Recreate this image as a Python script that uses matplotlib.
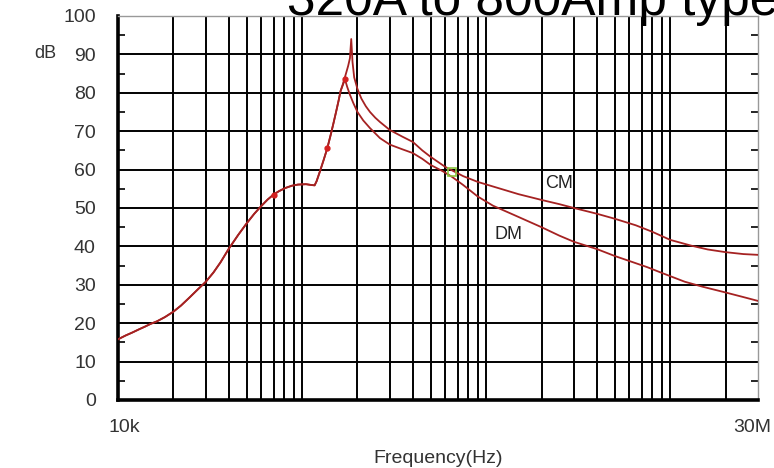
import matplotlib.pyplot as plt
from matplotlib.ticker import FixedLocator, NullFormatter, NullLocator
import numpy as np

plt.rcParams['font.family'] = ['Liberation Sans', 'DejaVu Sans']

# both curves are the same up to ~160 kHz
freq_common = [10e3, 11e3, 12e3, 13e3, 14e3, 15e3, 16.3e3, 18e3, 20e3, 22e3,
               24.6e3, 27e3, 30e3, 33e3, 36e3, 40e3, 45e3, 50e3, 55e3, 60e3,
               65e3, 70e3, 75e3, 81e3, 88e3, 95e3, 105e3, 112e3, 117e3, 120e3,
               125e3, 131e3, 137e3, 143e3, 148e3, 153e3, 158e3, 162e3]
db_common = [15.8, 16.8, 17.6, 18.4, 19.1, 19.8, 20.5, 21.6, 23.0, 24.6,
             26.8, 28.7, 30.8, 33.2, 35.8, 39.4, 43.0, 46.0, 48.5, 50.5,
             52.2, 53.5, 54.4, 55.2, 55.8, 56.1, 56.2, 56.0, 55.9, 57.0,
             59.5, 62.5, 65.5, 69.0, 72.0, 75.0, 78.0, 80.5]

freq_cm = [166e3, 172e3, 178e3, 182e3, 185e3, 188e3, 192e3, 200e3, 210e3, 222e3,
           234e3, 250e3, 265e3, 300e3, 350e3, 400e3, 450e3, 500e3, 600e3, 653e3,
           750e3, 900e3, 1.2e6, 1.5e6, 2e6, 2.5e6, 3e6, 4e6, 5e6, 6.5e6,
           8e6, 10e6, 13e6, 16e6, 20e6, 25e6, 30e6]
db_cm = [82.0, 84.5, 87.0, 89.0, 94.0, 88.0, 84.0, 81.0, 78.5, 76.5,
         75.0, 73.5, 72.4, 70.3, 68.6, 67.2, 65.0, 63.3, 60.7, 59.8,
         58.3, 56.8, 55.0, 53.6, 52.1, 51.0, 50.0, 48.5, 47.2, 45.5,
         43.8, 41.7, 40.2, 39.2, 38.5, 38.0, 37.8]

freq_dm = [171e3, 176e3, 182e3, 190e3, 200e3, 215e3, 234e3, 265e3, 300e3, 350e3,
           400e3, 450e3, 500e3, 580e3, 653e3, 750e3, 900e3, 1.09e6, 1.4e6, 2e6,
           2.5e6, 3e6, 4e6, 5e6, 6e6, 7.5e6, 9e6, 12e6, 15e6, 20e6,
           25e6, 30e6]
db_dm = [83.5, 81.5, 79.5, 77.3, 75.0, 72.8, 70.8, 68.2, 66.5, 65.3,
         64.3, 62.8, 61.2, 59.6, 58.1, 56.0, 53.0, 50.6, 48.3, 45.0,
         42.8, 41.2, 39.3, 37.5, 36.2, 34.6, 33.1, 30.8, 29.5, 28.0,
         26.8, 25.8]

dot_f = [70e3, 137e3, 171e3]
dot_db = [53.5, 65.5, 83.5]
cursor_f, cursor_db = 653e3, 59.5

fig = plt.figure(figsize=(7.74, 4.68), dpi=100)
ax = fig.add_axes([118 / 774, 1 - 400 / 468, 640 / 774, 384 / 468])

line_col = '#a52222'
ax.plot(freq_common + freq_cm, db_common + db_cm, color=line_col, lw=1.3, zorder=3)
ax.plot(freq_common + freq_dm, db_common + db_dm, color=line_col, lw=1.3, zorder=3)
ax.plot(dot_f, dot_db, 'o', ms=3.5, color='#d42020', zorder=4)
ax.plot([cursor_f], [cursor_db], marker='s', ms=6, mfc='none', mec='#8cc63f', mew=1.2, zorder=4)

ax.set_xscale('log')
ax.set_xlim(10e3, 30e6)
ax.set_ylim(0, 100)

# grid lines at every 1..9 x decade and every 10 dB
vgrid = [m * 10 ** e for e in range(4, 8) for m in range(1, 10) if 10e3 < m * 10 ** e < 30e6]
for v in vgrid:
    ax.axvline(v, color='black', lw=1.4, zorder=1)
for h in range(10, 100, 10):
    ax.axhline(h, color='black', lw=1.4, zorder=1)

ax.xaxis.set_major_locator(NullLocator())
ax.xaxis.set_minor_locator(NullLocator())
ax.annotate('10k', xy=(10e3, 0), xycoords=('data', 'axes fraction'), xytext=(4.5, -20),
            textcoords='offset points', ha='center', va='center', fontsize=14, color='#333333')
ax.annotate('30M', xy=(30e6, 0), xycoords=('data', 'axes fraction'), xytext=(-4, -20),
            textcoords='offset points', ha='center', va='center', fontsize=14, color='#333333')

ax.set_yticks(range(0, 101, 10))
ax.set_yticks(range(5, 100, 10), minor=True)
ax.tick_params(axis='y', which='major', length=0, pad=16, labelsize=14, labelcolor='#333333')
ax.tick_params(axis='y', which='minor', direction='in', length=5, width=1.2,
               left=True, right=True, color='black')

for s in ['left', 'bottom']:
    ax.spines[s].set_linewidth(2.6)
    ax.spines[s].set_color('black')
for s in ['top', 'right']:
    ax.spines[s].set_linewidth(1.0)
    ax.spines[s].set_color('#999999')

ax.set_xlabel('Frequency(Hz)', fontsize=14, color='#333333', labelpad=36)
fig.text(45 / 774, 1 - 54 / 468, 'dB', fontsize=13, color='#333333', ha='center', va='center')

ax.text(2.49e6, 56.3, 'CM', fontsize=13, color='#222222', ha='center', va='center')
ax.text(1.32e6, 43.0, 'DM', fontsize=13, color='#222222', ha='center', va='center')

fig.text(287 / 774, 1 - 15 / 468, '320A to 800Amp type', fontsize=37, color='black',
         ha='left', va='baseline')

fig.savefig('out.png', dpi=100)
